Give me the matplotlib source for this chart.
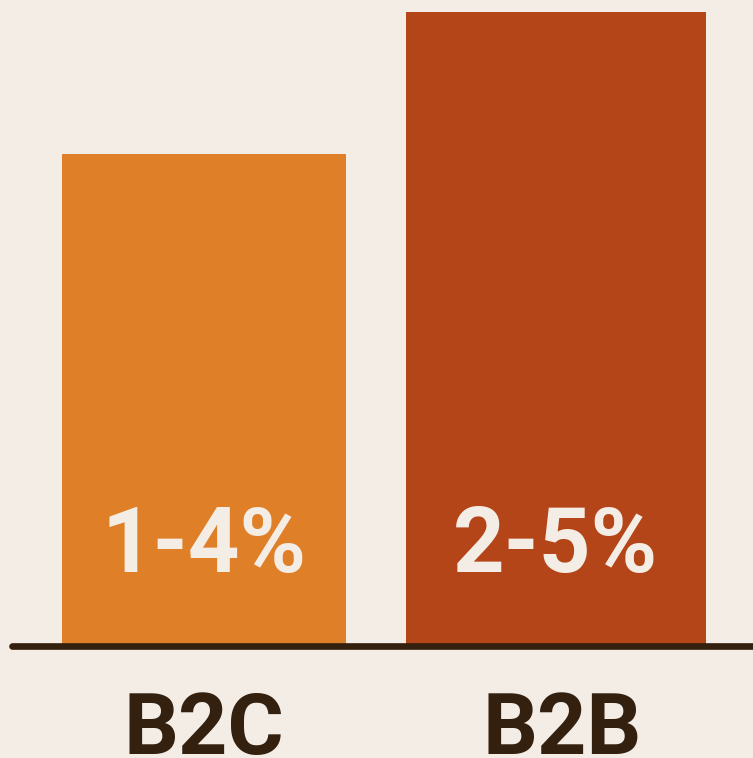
import matplotlib
matplotlib.use("Agg")
import matplotlib.pyplot as plt
from matplotlib import font_manager

categories = ["B2C", "B2B"]
bar_heights = [3.88, 5.0]
value_labels = ["1-4%", "2-5%"]
bar_widths = [0.807, 0.852]
bar_colors = ["#df7f27", "#b44518"]

BG = "#f3ede6"
DARK = "#33200f"
LIGHT = "#f4ede5"

names = {f.name for f in font_manager.fontManager.ttflist}
cat_font = "Roboto" if "Roboto" in names else "Liberation Sans"
val_font = "Roboto" if "Roboto" in names else "DejaVu Sans"

fig = plt.figure(figsize=(7.53, 7.58), dpi=100, facecolor=BG)
ax = fig.add_axes([0, 0, 1, 1])
ax.set_facecolor(BG)
ax.axis("off")

x = list(range(len(categories)))
ax.bar(x, bar_heights, width=bar_widths, color=bar_colors, zorder=2)

ax.plot([-0.545, 1.6], [0, 0], color=DARK, linewidth=4.8,
        solid_capstyle="round", zorder=3)

for xi, lab in zip(x, value_labels):
    ax.text(xi, 0.585, lab, ha="center", va="baseline", color=LIGHT,
            fontsize=65, fontweight="semibold", family=val_font, zorder=4)

for xi, cat in zip(x, categories):
    ax.text(xi + (0.0 if xi == 0 else 0.017), -0.85, cat, ha="center", va="baseline",
            color=DARK, fontsize=62, fontweight="bold", family=cat_font,
            zorder=4, clip_on=False)

ax.set_xlim(-0.5795, 1.5597)
ax.set_ylim(-0.883, 5.095)

fig.savefig("out.png", dpi=100, facecolor=BG)
